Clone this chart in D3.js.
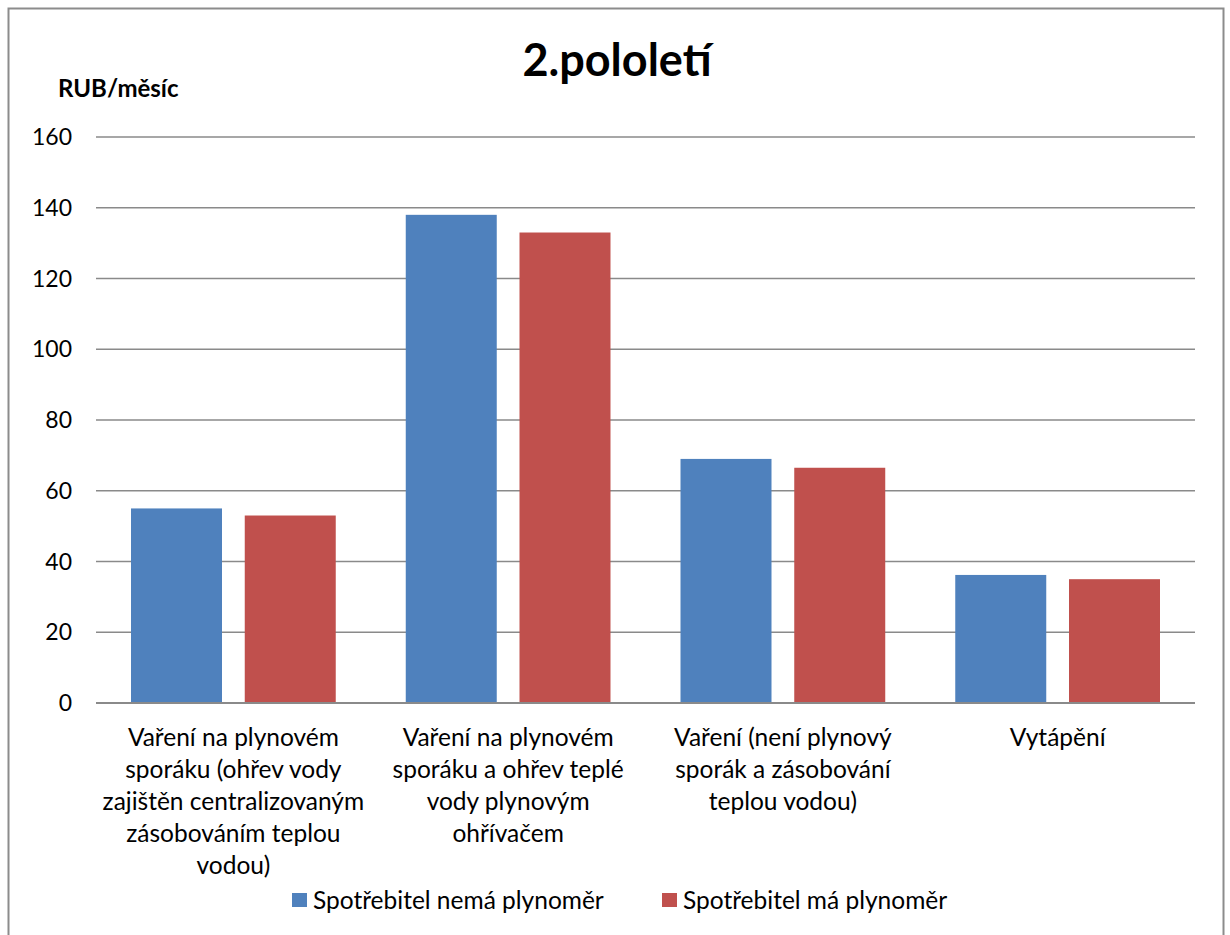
<!DOCTYPE html>
<html><head><meta charset="utf-8">
<script src="https://cdn.jsdelivr.net/npm/d3@7"></script>
<style>body{margin:0;background:#fff;} text{font-family:Lato, "Open Sans", sans-serif;}</style>
</head><body>
<svg id="c" width="1230" height="935"></svg>
<script>
const categories = [
  "Vaření na plynovém sporáku (ohřev vody zajištěn centralizovaným zásobováním teplou vodou)",
  "Vaření na plynovém sporáku a ohřev teplé vody plynovým ohřívačem",
  "Vaření (není plynový sporák a zásobování teplou vodou)",
  "Vytápění"
];
const categoryLines = [
  ["Vaření na plynovém", "sporáku (ohřev vody", "zajištěn centralizovaným", "zásobováním teplou", "vodou)"],
  ["Vaření na plynovém", "sporáku a ohřev teplé", "vody plynovým", "ohřívačem"],
  ["Vaření (není plynový", "sporák a zásobování", "teplou vodou)"],
  ["Vytápění"]
];
const seriesNames = ["Spotřebitel nemá plynoměr", "Spotřebitel má plynoměr"];
const noMeter = [55, 138, 69, 36.2];
const withMeter = [53, 133, 66.5, 35];
const yTicks = [0, 20, 40, 60, 80, 100, 120, 140, 160];
const colors = ["#4F81BD", "#C0504D"];

(function () {
const svg = d3.select("#c");
svg.append("rect").attr("x", 8.5).attr("y", 8.5).attr("width", 1215).attr("height", 940)
  .attr("fill", "#fff").attr("stroke", "#8c8c8c").attr("stroke-width", 2);

const pL = 96, pR = 1195, pT = 137, pB = 703;
const x0 = d3.scaleBand().domain(categories).range([pL, pR]).paddingInner(0.2548).paddingOuter(0.1274);
const x1 = d3.scaleBand().domain(seriesNames).range([0, x0.bandwidth()]).paddingInner(0.2);
const y = d3.scaleLinear().domain([0, 160]).range([pB, pT]);

svg.append("g").selectAll("line").data(yTicks).join("line")
  .attr("x1", pL).attr("x2", pR).attr("y1", d => y(d)).attr("y2", d => y(d))
  .attr("stroke", "#8a8a8a").attr("stroke-width", 1.5);

svg.append("g").selectAll("text").data(yTicks).join("text")
  .attr("x", 72).attr("y", d => y(d) + 8).attr("text-anchor", "end")
  .attr("font-size", 23).attr("fill", "#000").text(d => d);

const data = categories.map((c, i) => ({c, vals: [noMeter[i], withMeter[i]]}));
const g = svg.append("g").selectAll("g").data(data).join("g")
  .attr("transform", d => `translate(${x0(d.c)},0)`);
g.selectAll("rect").data(d => d.vals.map((v, j) => ({v, s: seriesNames[j], j}))).join("rect")
  .attr("x", d => x1(d.s)).attr("width", x1.bandwidth())
  .attr("y", d => y(d.v)).attr("height", d => y(0) - y(d.v))
  .attr("fill", d => colors[d.j]);

svg.append("line").attr("x1", pL).attr("x2", pR).attr("y1", y(0)).attr("y2", y(0))
  .attr("stroke", "#8a8a8a").attr("stroke-width", 2);

const xl = svg.append("g").selectAll("text").data(categories).join("text")
  .attr("text-anchor", "middle").attr("font-size", 24.5).attr("fill", "#000")
  .attr("transform", d => `translate(${x0(d) + x0.bandwidth() / 2},746)`);
xl.each(function(d, i) {
  d3.select(this).selectAll("tspan").data(categoryLines[i]).join("tspan")
    .attr("x", 0).attr("y", (t, k) => k * 32).text(t => t);
});

svg.append("text").attr("x", 617).attr("y", 76).attr("text-anchor", "middle")
  .attr("font-size", 45).attr("font-weight", "bold").text("2.pololetí");
svg.append("text").attr("x", 58).attr("y", 97)
  .attr("font-size", 24).attr("font-weight", "bold").text("RUB/měsíc");

const legX = [292, 662];
const lg = svg.append("g").selectAll("g").data(seriesNames).join("g")
  .attr("transform", (d, i) => `translate(${legX[i]},900)`);
lg.append("rect").attr("x", 0).attr("y", -7).attr("width", 15).attr("height", 14).attr("fill", (d, i) => colors[i]);
lg.append("text").attr("x", 21).attr("y", 9).attr("font-size", 24.5).text(d => d);
})();
</script>
</body></html>
